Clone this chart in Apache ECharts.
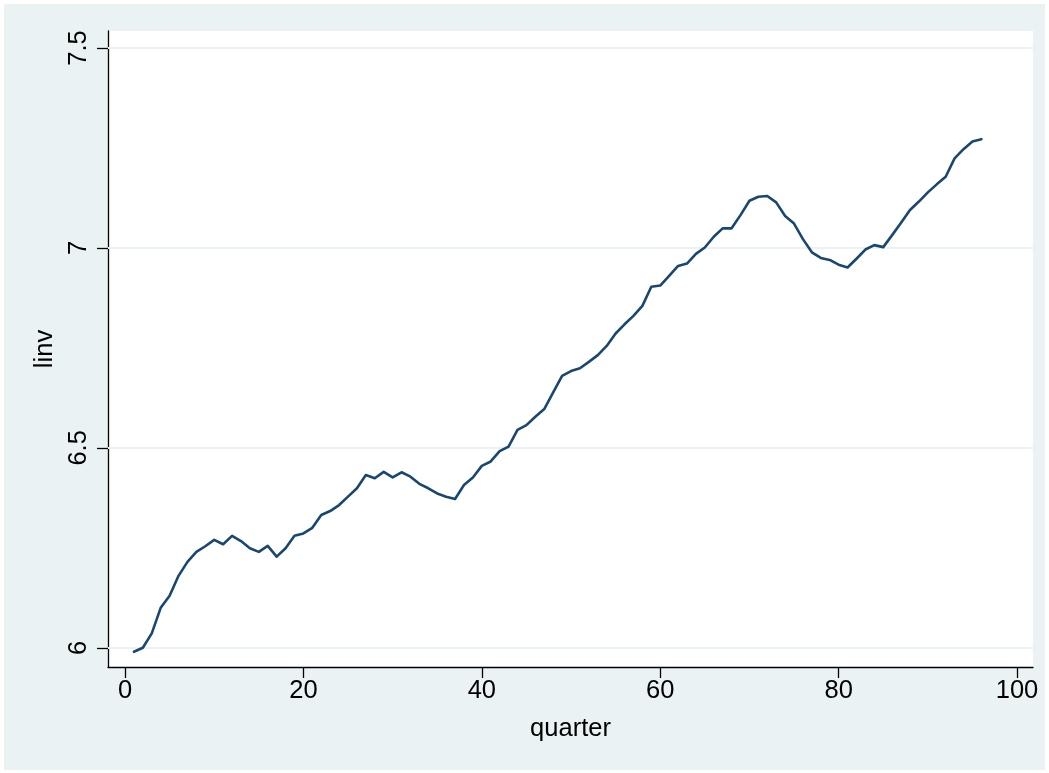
<!DOCTYPE html>
<html>
<head>
<meta charset="utf-8">
<script src="https://cdn.jsdelivr.net/npm/echarts@6/dist/echarts.min.js"></script>
<style>
html,body{margin:0;padding:0;background:#fff;}
#bg{position:absolute;left:4px;top:4px;width:1041px;height:766px;background:#EAF2F3;}
#chart{position:absolute;left:0;top:0;width:1049px;height:773px;}
</style>
</head>
<body>
<div id="bg"></div>
<div id="chart"></div>
<script>
const quarters = [];
for (let q = 1; q <= 96; q++) quarters.push(q);
const linv = [
  5.99, 6.00, 6.036, 6.10, 6.13, 6.18, 6.215, 6.24, 6.254, 6.27,
  6.259, 6.28, 6.267, 6.249, 6.24, 6.255, 6.228, 6.249, 6.28, 6.286,
  6.30, 6.332, 6.342, 6.357, 6.378, 6.399, 6.432, 6.424, 6.44, 6.426,
  6.439, 6.428, 6.41, 6.399, 6.386, 6.378, 6.372, 6.407, 6.426, 6.455,
  6.466, 6.492, 6.503, 6.545, 6.557, 6.578, 6.597, 6.639, 6.68, 6.692,
  6.699, 6.715, 6.732, 6.755, 6.786, 6.809, 6.83, 6.855, 6.903, 6.906,
  6.93, 6.955, 6.961, 6.985, 7.001, 7.028, 7.049, 7.049, 7.082, 7.118,
  7.128, 7.13, 7.114, 7.08, 7.061, 7.022, 6.989, 6.975, 6.97, 6.958,
  6.951, 6.973, 6.996, 7.007, 7.002, 7.032, 7.063, 7.095, 7.116, 7.139,
  7.159, 7.178, 7.224, 7.247, 7.266, 7.272
];
const xTicks = [0, 20, 40, 60, 80, 100];
const yTicks = [6, 6.5, 7, 7.5];

const chart = echarts.init(document.getElementById('chart'));
const font = 'Liberation Sans, Arial, sans-serif';
const fs = 25.5;
chart.setOption({
  animation: false,
  backgroundColor: 'transparent',
  grid: {left: 108, right: 16, top: 31, bottom: 106, show: true, backgroundColor: '#fff', borderWidth: 0},
  xAxis: {
    type: 'value', min: -1.906, max: 101.79,
    name: 'quarter', nameLocation: 'middle', nameGap: 49,
    nameTextStyle: {fontFamily: font, fontSize: fs, color: '#000'},
    axisLine: {show: true, onZero: false, lineStyle: {color: '#000', width: 1.3}},
    axisTick: {show: true, length: 11, customValues: xTicks, lineStyle: {color: '#000', width: 1.3}},
    axisLabel: {customValues: xTicks, fontFamily: font, fontSize: fs, color: '#000', margin: 11},
    splitLine: {show: false}
  },
  yAxis: {
    type: 'value', min: 5.952, max: 7.5425,
    name: 'linv', nameLocation: 'middle', nameGap: 49, nameRotate: 90,
    nameTextStyle: {fontFamily: font, fontSize: fs, color: '#000'},
    axisLine: {show: true, onZero: false, lineStyle: {color: '#000', width: 1.3}},
    axisTick: {show: true, length: 11, customValues: yTicks, lineStyle: {color: '#000', width: 1.3}},
    axisLabel: {customValues: yTicks, rotate: 90, fontFamily: font, fontSize: fs, color: '#000', margin: 16,
      formatter: v => String(v)},
    splitLine: {show: false}
  },
  series: [
    {
      type: 'line', data: [], z: 1, silent: true,
      markLine: {
        z: 1, silent: true, symbol: 'none', label: {show: false},
        lineStyle: {color: '#EAF2F3', width: 2, type: 'solid'},
        data: yTicks.map(v => ({yAxis: v}))
      }
    },
    {
      type: 'line', z: 6,
      data: quarters.map((q, i) => [q, linv[i]]),
      showSymbol: false, symbol: 'none',
      lineStyle: {color: '#1A476F', width: 2.6, join: 'round', cap: 'round'}
    }
  ]
});
</script>
</body>
</html>
